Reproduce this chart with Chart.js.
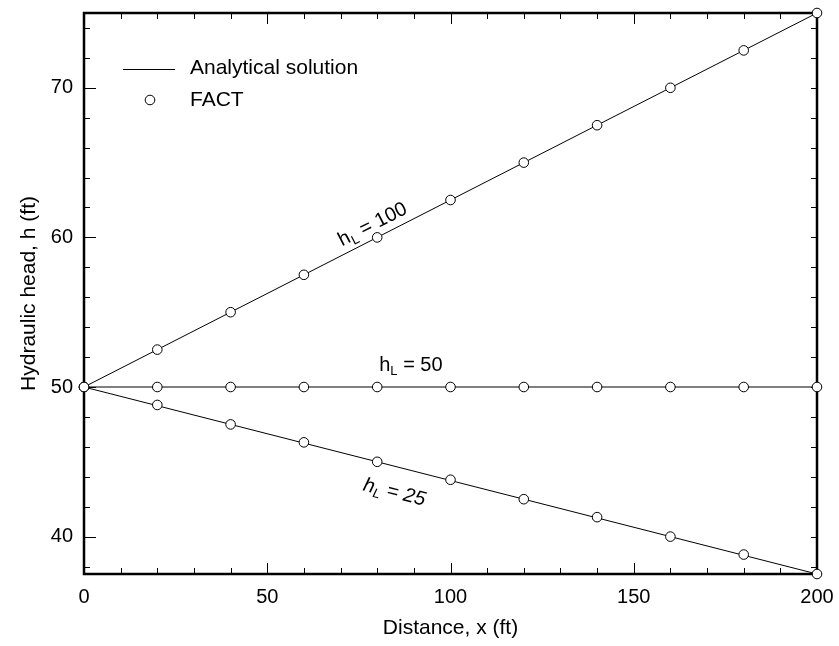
<!DOCTYPE html>
<html><head><meta charset="utf-8">
<script src="https://cdn.jsdelivr.net/npm/chart.js@4.4.0/dist/chart.umd.min.js"></script>
<style>html,body{margin:0;padding:0;background:#fff}#wrap{width:839px;height:646px;position:relative}</style>
</head><body><div id="wrap"><canvas id="c" width="839" height="646"></canvas></div>
<script>
// ---- data ----
const distance   = [0, 20, 40, 60, 80, 100, 120, 140, 160, 180, 200];
const analytic100 = [50, 52.5, 55, 57.5, 60, 62.5, 65, 67.5, 70, 72.5, 75];
const analytic50  = [50, 50, 50, 50, 50, 50, 50, 50, 50, 50, 50];
const analytic25  = [50, 48.75, 47.5, 46.25, 45, 43.75, 42.5, 41.25, 40, 38.75, 37.5];
const fact100 = [50, 52.5, 55, 57.5, 60, 62.5, 65, 67.5, 70, 72.5, 75];
const fact50  = [50, 50, 50, 50, 50, 50, 50, 50, 50, 50, 50];
const fact25  = [50, 48.8, 47.5, 46.3, 45, 43.8, 42.5, 41.3, 40, 38.8, 37.5];
const xTickLabels = [0, 50, 100, 150, 200];
const yTickLabels = [40, 50, 60, 70];
const seriesNames = ['Analytical solution', 'FACT'];
const curveLabels = [
  {main: 'h', sub: 'L', rest: ' = 100', x: 78.8, y: 60.85, italic: false, slopeOf: analytic100},
  {main: 'h', sub: 'L', rest: ' = 50',  x: 89.2, y: 51.45, italic: false, slopeOf: analytic50},
  {main: 'h', sub: 'L', rest: ' = 25',  x: 84.7, y: 42.94, italic: true,  slopeOf: analytic25}
];

const FONT = '"Liberation Sans", Arial, Helvetica, sans-serif';
const pts = arr => distance.map((x, i) => ({x, y: arr[i]}));

function lineDs(arr) {
  return {type: 'line', data: pts(arr), borderColor: '#000', borderWidth: 1, pointRadius: 0,
    fill: false, tension: 0, clip: false, order: 2};
}
function pointDs(arr) {
  return {type: 'scatter', data: pts(arr), showLine: false, pointRadius: 4.8, pointHoverRadius: 4.8,
    pointBackgroundColor: '#fff', pointBorderColor: '#000', pointBorderWidth: 1, clip: false, order: 1};
}

const framePlugin = {
  id: 'frame',
  beforeDatasetsDraw(chart) {
    const {ctx, chartArea: a, scales: {x, y}} = chart;
    ctx.save();
    ctx.strokeStyle = '#000';
    ctx.lineWidth = 1;
    ctx.beginPath();
    for (let v = 0; v <= 200; v += 10) {
      const px = Math.round(x.getPixelForValue(v)) + 0.5;
      const L = (v % 50 === 0) ? 11 : 6;
      ctx.moveTo(px, a.bottom); ctx.lineTo(px, a.bottom - L);
      ctx.moveTo(px, a.top); ctx.lineTo(px, a.top + L);
    }
    for (let v = 38; v <= 74; v += 2) {
      const py = Math.round(y.getPixelForValue(v)) + 0.5;
      const L = (v % 10 === 0) ? 12 : 6;
      ctx.moveTo(a.left, py); ctx.lineTo(a.left + L, py);
      ctx.moveTo(a.right, py); ctx.lineTo(a.right - 6, py);
    }
    ctx.stroke();
    ctx.lineWidth = 2.5;
    ctx.strokeRect(a.left, a.top, a.right - a.left, a.bottom - a.top);
    ctx.restore();
  }
};

const labelPlugin = {
  id: 'labels',
  afterDatasetsDraw(chart) {
    const {ctx, chartArea: a, scales: {x, y}} = chart;
    ctx.save();
    ctx.fillStyle = '#000';
    ctx.textBaseline = 'middle';
    ctx.textAlign = 'left';
    curveLabels.forEach(lb => {
      const arr = lb.slopeOf;
      const dx = x.getPixelForValue(distance[distance.length - 1]) - x.getPixelForValue(distance[0]);
      const dy = y.getPixelForValue(arr[arr.length - 1]) - y.getPixelForValue(arr[0]);
      const ang = Math.atan2(dy, dx);
      const st = lb.italic ? 'italic ' : '';
      const fMain = st + '20px ' + FONT, fSub = st + '13px ' + FONT;
      ctx.font = fMain; const w1 = ctx.measureText(lb.main).width;
      const w3 = ctx.measureText(lb.rest).width;
      ctx.font = fSub; const w2 = ctx.measureText(lb.sub).width;
      const tw = w1 + w2 + w3;
      ctx.save();
      ctx.translate(x.getPixelForValue(lb.x), y.getPixelForValue(lb.y));
      ctx.rotate(ang);
      let x0 = -tw / 2;
      ctx.font = fMain; ctx.fillText(lb.main, x0, 0);
      ctx.font = fSub; ctx.fillText(lb.sub, x0 + w1, 6);
      ctx.font = fMain; ctx.fillText(lb.rest, x0 + w1 + w2, 0);
      ctx.restore();
    });
    // legend
    ctx.textBaseline = 'alphabetic';
    ctx.font = '21px ' + FONT;
    ctx.lineWidth = 1;
    ctx.strokeStyle = '#000';
    ctx.beginPath();
    ctx.moveTo(a.left + 39, a.top + 56.5); ctx.lineTo(a.left + 91, a.top + 56.5);
    ctx.stroke();
    ctx.fillText(seriesNames[0], a.left + 106, a.top + 60.5);
    ctx.beginPath();
    ctx.arc(a.left + 66, a.top + 87, 4.8, 0, Math.PI * 2);
    ctx.fillStyle = '#fff'; ctx.fill(); ctx.stroke();
    ctx.fillStyle = '#000';
    ctx.fillText(seriesNames[1], a.left + 106, a.top + 92.7);
    ctx.restore();
  }
};

new Chart(document.getElementById('c'), {
  data: {
    datasets: [
      lineDs(analytic100), lineDs(analytic50), lineDs(analytic25),
      pointDs(fact100), pointDs(fact50), pointDs(fact25)
    ]
  },
  options: {
    responsive: false,
    animation: false,
    devicePixelRatio: 1,
    layout: {padding: {top: 13, right: 22, bottom: 0, left: 0}},
    plugins: {legend: {display: false}, tooltip: {enabled: false}},
    events: [],
    scales: {
      x: {
        type: 'linear', min: 0, max: 200,
        afterBuildTicks: s => { s.ticks = xTickLabels.map(v => ({value: v})); },
        afterFit: s => { s.height = 72; s.paddingLeft = 0; s.paddingRight = 0; },
        grid: {display: false, drawTicks: false},
        border: {display: false},
        ticks: {color: '#000', font: {family: FONT, size: 20}, padding: 11, maxRotation: 0, autoSkip: false},
        title: {display: true, text: 'Distance, x (ft)', color: '#000', font: {family: FONT, size: 21}, padding: {top: 0, bottom: 5}}
      },
      y: {
        type: 'linear', min: 37.5, max: 75,
        afterBuildTicks: s => { s.ticks = yTickLabels.map(v => ({value: v})); },
        afterFit: s => { s.width = 84; s.paddingTop = 0; s.paddingBottom = 0; },
        grid: {display: false, drawTicks: false},
        border: {display: false},
        ticks: {color: '#000', font: {family: FONT, size: 20}, padding: 11, autoSkip: false},
        title: {display: true, text: 'Hydraulic head, h (ft)', color: '#000', font: {family: FONT, size: 21}, padding: {top: 17, bottom: 0}}
      }
    }
  },
  plugins: [framePlugin, labelPlugin]
});
</script></body></html>
